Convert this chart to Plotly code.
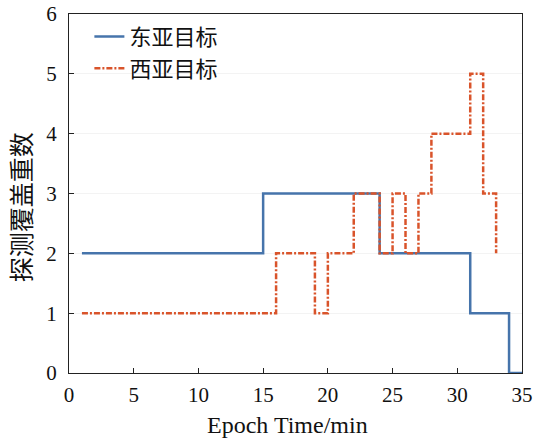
import plotly.graph_objects as go

east_x = [1, 15, 24, 31, 34, 35]
east_y = [2, 3, 2, 1, 0, 0]
west_x = [1, 16, 19, 20, 22, 24, 25, 26, 27, 28, 31, 32, 33]
west_y = [1, 2, 1, 2, 3, 2, 3, 2, 3, 4, 5, 3, 2]
names = ["东亚目标", "西亚目标"]
x_ticks = [0, 5, 10, 15, 20, 25, 30, 35]
y_ticks = [0, 1, 2, 3, 4, 5, 6]
x_title = "Epoch Time/min"
y_title = "探测覆盖重数"

fig = go.Figure()
fig.add_trace(go.Scatter(x=east_x, y=east_y, mode="lines", line_shape="hv",
                         name=names[0], line=dict(color="#4674AB", width=2.5)))
fig.add_trace(go.Scatter(x=west_x, y=west_y, mode="lines", line_shape="hv",
                         name=names[1], line=dict(color="#D9542B", width=2.5, dash="6px,2px,2px,2px")))

axis_common = dict(showline=True, linecolor="#222", linewidth=1.2, mirror=True,
                   ticks="inside", ticklen=5, tickcolor="#222", zeroline=False,
                   automargin=False,
                   tickfont=dict(family="Liberation Serif", size=21, color="#111"))
fig.update_layout(
    width=534, height=441,
    margin=dict(l=69, r=12, t=14, b=68),
    plot_bgcolor="white", paper_bgcolor="white",
    xaxis=dict(range=[0, 35], tickvals=x_ticks, showgrid=False, ticklabelstandoff=3, **axis_common),
    yaxis=dict(range=[0, 6], tickvals=y_ticks, showgrid=True, gridcolor="#f3f3f3", ticklabelstandoff=7,
               **axis_common),
    legend=dict(x=0.045, y=0.995, xanchor="left", yanchor="top", bgcolor="rgba(0,0,0,0)",
                font=dict(family="Noto Sans CJK SC", size=22, color="#111"), tracegroupgap=0),
    showlegend=True,
)
fig.add_annotation(text=x_title, xref="paper", yref="paper", x=0.482, y=-0.145,
                   xanchor="center", yanchor="middle", showarrow=False,
                   font=dict(family="Liberation Serif", size=24, color="#111"))
fig.add_annotation(text=y_title, xref="paper", yref="paper", x=-0.108, y=0.462, textangle=-90,
                   xanchor="center", yanchor="middle", showarrow=False,
                   font=dict(family="Noto Sans CJK SC", size=25, color="#111"))
fig.write_html("out.html", config={"displayModeBar": False},
               post_script="document.body.style.margin='0';document.body.style.overflow='hidden';")
